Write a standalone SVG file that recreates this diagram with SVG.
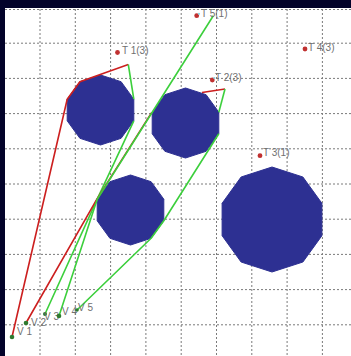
<svg xmlns="http://www.w3.org/2000/svg" width="351" height="356" viewBox="0 0 351 356">
<style>
.grid{stroke:#7a7a7a;stroke-width:1;stroke-dasharray:2 2;fill:none}
.obs{fill:#2d3092;stroke:#2d3092;stroke-width:1;stroke-linejoin:round}
.red{stroke:#cc1f1f;stroke-width:1.6;fill:none;stroke-linejoin:round}
.grn{stroke:#3ccf3c;stroke-width:1.6;fill:none;stroke-linejoin:round}
.tdot{fill:#c03030}
.vdot{fill:#2f7a2f}
.lbl{font-family:"Liberation Sans",Arial,sans-serif;font-size:10px;fill:#707070}
</style>
<rect x="0" y="0" width="351" height="356" fill="#03032a"/>
<rect x="5" y="8" width="346" height="348" fill="#ffffff"/>
<g id="grid">
<line class="grid" x1="5" y1="9.5" x2="351" y2="9.5"/>
<line class="grid" x1="5" y1="43.2" x2="351" y2="43.2"/>
<line class="grid" x1="5" y1="78.4" x2="351" y2="78.4"/>
<line class="grid" x1="5" y1="113.6" x2="351" y2="113.6"/>
<line class="grid" x1="5" y1="148.8" x2="351" y2="148.8"/>
<line class="grid" x1="5" y1="184" x2="351" y2="184"/>
<line class="grid" x1="5" y1="219.2" x2="351" y2="219.2"/>
<line class="grid" x1="5" y1="254.4" x2="351" y2="254.4"/>
<line class="grid" x1="5" y1="289.6" x2="351" y2="289.6"/>
<line class="grid" x1="5" y1="324.8" x2="351" y2="324.8"/>
<line class="grid" x1="40" y1="9" x2="40" y2="356"/>
<line class="grid" x1="75.3" y1="9" x2="75.3" y2="356"/>
<line class="grid" x1="110.6" y1="9" x2="110.6" y2="356"/>
<line class="grid" x1="145.9" y1="9" x2="145.9" y2="356"/>
<line class="grid" x1="181.2" y1="9" x2="181.2" y2="356"/>
<line class="grid" x1="216.5" y1="9" x2="216.5" y2="356"/>
<line class="grid" x1="251.8" y1="9" x2="251.8" y2="356"/>
<line class="grid" x1="287.1" y1="9" x2="287.1" y2="356"/>
<line class="grid" x1="322.4" y1="9" x2="322.4" y2="356"/>
</g>
<g id="obstacle1"><polygon class="obs" points="100.5,75 121.1,81.7 133.8,99.2 133.8,120.8 121.1,138.3 100.5,145 79.9,138.3 67.2,120.8 67.2,99.2 79.9,81.7"/></g>
<g id="obstacle2"><polygon class="obs" points="185.5,88 206.1,94.7 218.8,112.2 218.8,133.8 206.1,151.3 185.5,158 164.9,151.3 152.2,133.8 152.2,112.2 164.9,94.7"/></g>
<g id="obstacle3"><polygon class="obs" points="130.5,175 151.1,181.7 163.8,199.2 163.8,220.8 151.1,238.3 130.5,245 109.9,238.3 97.2,220.8 97.2,199.2 109.9,181.7"/></g>
<g id="obstacle4"><polygon class="obs" points="272,167 302.9,177 321.9,203.3 321.9,235.7 302.9,262 272,272 241.1,262 222.1,235.7 222.1,203.3 241.1,177"/></g>
<g id="connectors">
<polyline class="red" points="12,337 67.2,99.2 79.9,81.7 128.3,64.5"/>
<polyline class="grn" points="128.3,64.5 133.8,99.2"/>
<polyline class="grn" points="133.8,120.8 97.2,199.2 45,314"/>
<polyline class="red" points="26,323 96.6,199.6 151.6,112.6"/>
<polyline class="grn" points="213.3,15.7 97.2,199.2 59,316"/>
<polyline class="red" points="202,92.5 225,89"/>
<polyline class="grn" points="225,89 218.8,112.2"/>
<polyline class="grn" points="218.8,133.8 163.8,220.8 151.1,238.3 77,310"/>
</g>
<g id="T1"><circle class="tdot" cx="117.5" cy="52.5" r="2.4"/><text class="lbl" x="122" y="54">T 1(3)</text></g>
<g id="T2"><circle class="tdot" cx="212.3" cy="80" r="2.4"/><circle cx="214.3" cy="78" r="1.1" fill="#8fd8e8"/><text class="lbl" x="215" y="81">T 2(3)</text></g>
<g id="T3"><circle class="tdot" cx="260" cy="155.7" r="2.4"/><text class="lbl" x="263" y="156">T 3(1)</text></g>
<g id="T4"><circle class="tdot" cx="305" cy="49" r="2.4"/><text class="lbl" x="308" y="51">T 4(3)</text></g>
<g id="T5"><circle class="tdot" cx="196.7" cy="15.7" r="2.4"/><circle cx="199" cy="13.8" r="1.1" fill="#8fd8e8"/><text class="lbl" x="201" y="17">T 5(1)</text></g>
<g id="V1"><circle class="vdot" cx="12" cy="337" r="2.3"/><text class="lbl" x="17" y="335">V 1</text></g>
<g id="V2"><circle class="vdot" cx="26" cy="323" r="2.3"/><text class="lbl" x="31" y="326">V 2</text></g>
<g id="V3"><circle class="vdot" cx="45" cy="314" r="2"/><text class="lbl" x="44" y="320">V 3</text></g>
<g id="V4"><circle class="vdot" cx="59" cy="316" r="2.3" fill="#2a4a2a"/><text class="lbl" x="62" y="315">V 4</text></g>
<g id="V5"><circle class="vdot" cx="77" cy="310" r="1.8"/><text class="lbl" x="78" y="311">V 5</text></g>
</svg>
